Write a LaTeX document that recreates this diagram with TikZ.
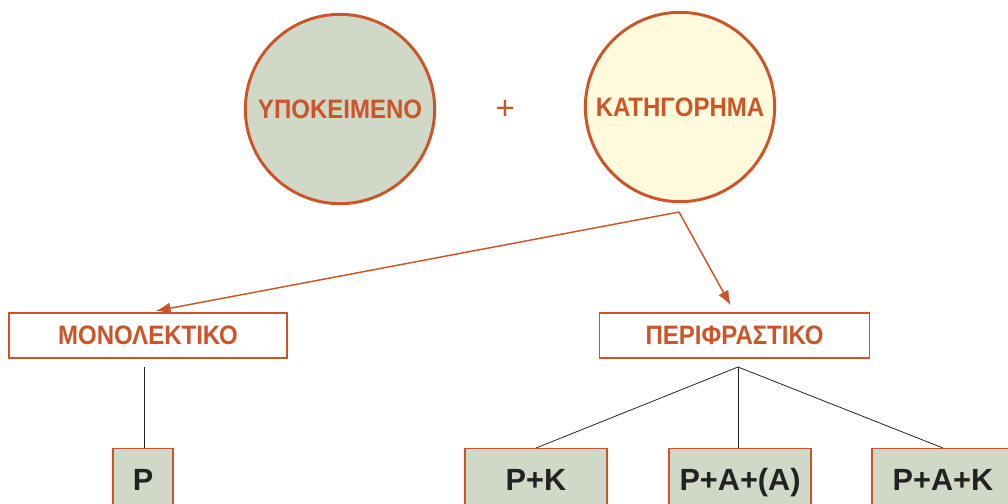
\documentclass[tikz,border=0pt]{standalone}
\usepackage{fontspec}
\setmainfont{Liberation Sans}
\newfontfamily\narrowsans[FakeStretch=0.9]{Liberation Sans}
\usepackage{xcolor}
\usepackage{tikz}
\usetikzlibrary{shapes,arrows,positioning,calc,arrows.meta}

\definecolor{rust}{HTML}{CC5426}
\definecolor{sage}{HTML}{D0D8C8}
\definecolor{cream}{HTML}{FFFADC}
\definecolor{ink}{HTML}{222222}

\tikzset{
  ball/.style={circle, draw=rust, line width=2.2pt, minimum size=142pt, inner sep=0pt,
    text=rust, font=\narrowsans\fontsize{20}{22}\selectfont\bfseries},
  kind/.style={rectangle, draw=rust, line width=0.9pt, fill=white, inner sep=0pt,
    minimum height=33.75pt, text=rust, font=\narrowsans\fontsize{20}{22}\selectfont\bfseries},
  form/.style={rectangle, draw=rust, line width=1pt, fill=sage, inner sep=0pt, anchor=north,
    text height=31.5pt, text depth=22.5pt, text=ink, font=\fontsize{23}{26}\selectfont\bfseries},
  link/.style={draw=rust, line width=1.1pt, -{Latex[length=11pt,width=8.5pt]}}
}

\begin{document}
\begin{tikzpicture}[x=0.75pt, y=-0.75pt]
    \useasboundingbox (0,0) rectangle (1008,504);
    \clip (0,0) rectangle (1008,504);

    % Subject + predicate
    \node[ball, fill=sage] (subj) at (340,109) {ΥΠΟΚΕΙΜΕΝΟ};
    \node[ball, fill=cream] (pred) at (680,107) {ΚΑΤΗΓΟΡΗΜΑ};
    \node[text=rust, font=\fontsize{25}{27}\selectfont] (plus) at (505,110) {+};

    % Two kinds
    \node[kind, minimum width=208.5pt] (mono) at (148,335.5) {ΜΟΝΟΛΕΚΤΙΚΟ};
    \node[kind, minimum width=203pt] (peri) at (734.5,335.5) {ΠΕΡΙΦΡΑΣΤΙΚΟ};

    \coordinate (fork) at (679,212);
    \draw[link, shorten >=6pt] (fork) -- (mono.north);
    \draw[link, shorten >=6pt] (fork) -- (peri.north);

    % Forms
    \node[form, minimum width=45pt] (p) at (143,448) {P};
    \node[form, minimum width=106.5pt] (pk) at (536,448) {P+K};
    \node[form, minimum width=106.5pt] (paa) at (740,448) {P+A+(A)};
    \node[form, minimum width=106.5pt] (pak) at (943,448) {P+A+K};

    \coordinate (mstem) at (144,367);
    \coordinate (pstem) at (738,367);
    \draw[ink, line width=0.6pt] (mstem) -- (p.north -| mstem);
    \draw[ink, line width=0.6pt] (pstem) -- (pk.north);
    \draw[ink, line width=0.6pt] (pstem) -- (paa.north -| pstem);
    \draw[ink, line width=0.6pt] (pstem) -- (pak.north);
\end{tikzpicture}
\end{document}
